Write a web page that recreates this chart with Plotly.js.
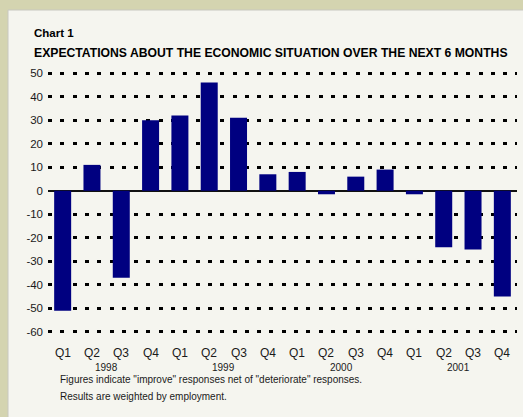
<!DOCTYPE html>
<html>
<head>
<meta charset="utf-8">
<script src="https://cdn.plot.ly/plotly-3.0.1.min.js"></script>
<style>html,body{margin:0;padding:0;background:#d4d4b0;}#chart{width:523px;height:417px;}</style>
</head>
<body>
<div id="chart"></div>
<script>
const quarters = ["Q1","Q2","Q3","Q4","Q1","Q2","Q3","Q4","Q1","Q2","Q3","Q4","Q1","Q2","Q3","Q4"];
const years = ["1998","1999","2000","2001"];
const values = [-51, 11, -37, 30, 32, 46, 31, 7, 8, -1.5, 6, 9, -1.5, -24, -25, -45];
const yTicks = [50, 40, 30, 20, 10, 0, -10, -20, -30, -40, -50, -60];

const xIdx = quarters.map((q, i) => i);
const fontFam = '"Liberation Sans", Arial, sans-serif';

const annotations = [];
quarters.forEach((q, i) => {
  annotations.push({x: i, y: 0, xref: 'x', yref: 'paper', yshift: -11, text: q, showarrow: false,
    font: {family: fontFam, size: 12, color: '#1a1a1a'}, yanchor: 'top'});
});
years.forEach((yr, k) => {
  annotations.push({x: k * 4 + 1.5, y: 0, xref: 'x', yref: 'paper', yshift: -27, text: yr, showarrow: false,
    font: {family: fontFam, size: 10, color: '#1a1a1a'}, yanchor: 'top'});
});
annotations.push({x: 58, y: 379, xref: 'paper', yref: 'paper', text: 'Figures indicate "improve" responses net of "deteriorate" responses.',
  showarrow: false, xanchor: 'left', yanchor: 'middle', font: {family: fontFam, size: 10, color: '#1a1a1a'}});
annotations.push({x: 58, y: 396, xref: 'paper', yref: 'paper', text: 'Results are weighted by employment.',
  showarrow: false, xanchor: 'left', yanchor: 'middle', font: {family: fontFam, size: 10, color: '#1a1a1a'}});
annotations.push({x: 32, y: 33, xref: 'paper', yref: 'paper', text: '<b>Chart 1</b>',
  showarrow: false, xanchor: 'left', yanchor: 'middle', font: {family: fontFam, size: 11.5, color: '#000'}});
annotations.push({x: 32, y: 53, xref: 'paper', yref: 'paper', text: '<b>EXPECTATIONS ABOUT THE ECONOMIC SITUATION OVER THE NEXT 6 MONTHS</b>',
  showarrow: false, xanchor: 'left', yanchor: 'middle', font: {family: fontFam, size: 12.2, color: '#000'}});

// convert pixel paper coords to paper fractions
const W = 523, H = 417, M = {l: 48, r: 6, t: 72, b: 84};
const pw = W - M.l - M.r, ph = H - M.t - M.b;
annotations.forEach(a => {
  if (a.xref === 'paper') a.x = (a.x - M.l) / pw;
  if (a.yref === 'paper' && a.yshift === undefined) a.y = 1 - (a.y - M.t) / ph;
});

const trace = {
  type: 'bar', x: xIdx, y: values,
  marker: {color: '#000080', line: {width: 0}},
  hoverinfo: 'none'
};

const layout = {
  width: W, height: H,
  margin: M,
  paper_bgcolor: '#d4d4b0',
  plot_bgcolor: 'rgba(0,0,0,0)',
  bargap: 0.42,
  showlegend: false,
  xaxis: {range: [-0.5, 15.5], showticklabels: false, showgrid: false, zeroline: false, showline: false, ticks: ''},
  yaxis: {range: [-60.5, 50.5], tickvals: yTicks, ticktext: yTicks.map(String),
    showgrid: true, gridcolor: '#000', gridwidth: 3, griddash: '4px,8.3px',
    zeroline: true, zerolinecolor: '#111', zerolinewidth: 2,
    showline: false, ticks: '', ticklabelstandoff: 4,
    tickfont: {family: fontFam, size: 11.5, color: '#1a1a1a'}},
  shapes: [
    {type: 'rect', xref: 'paper', yref: 'paper', layer: 'below',
      x0: (8 - M.l) / pw, x1: (W + 5 - M.l) / pw, y0: 1 - (H + 5 - M.t) / ph, y1: 1 - (10 - M.t) / ph,
      fillcolor: '#f5f5ef', line: {color: '#c8c8c0', width: 1}}
  ],
  annotations: annotations
};

Plotly.newPlot('chart', [trace], layout, {displayModeBar: false, staticPlot: true});
</script>
</body>
</html>
